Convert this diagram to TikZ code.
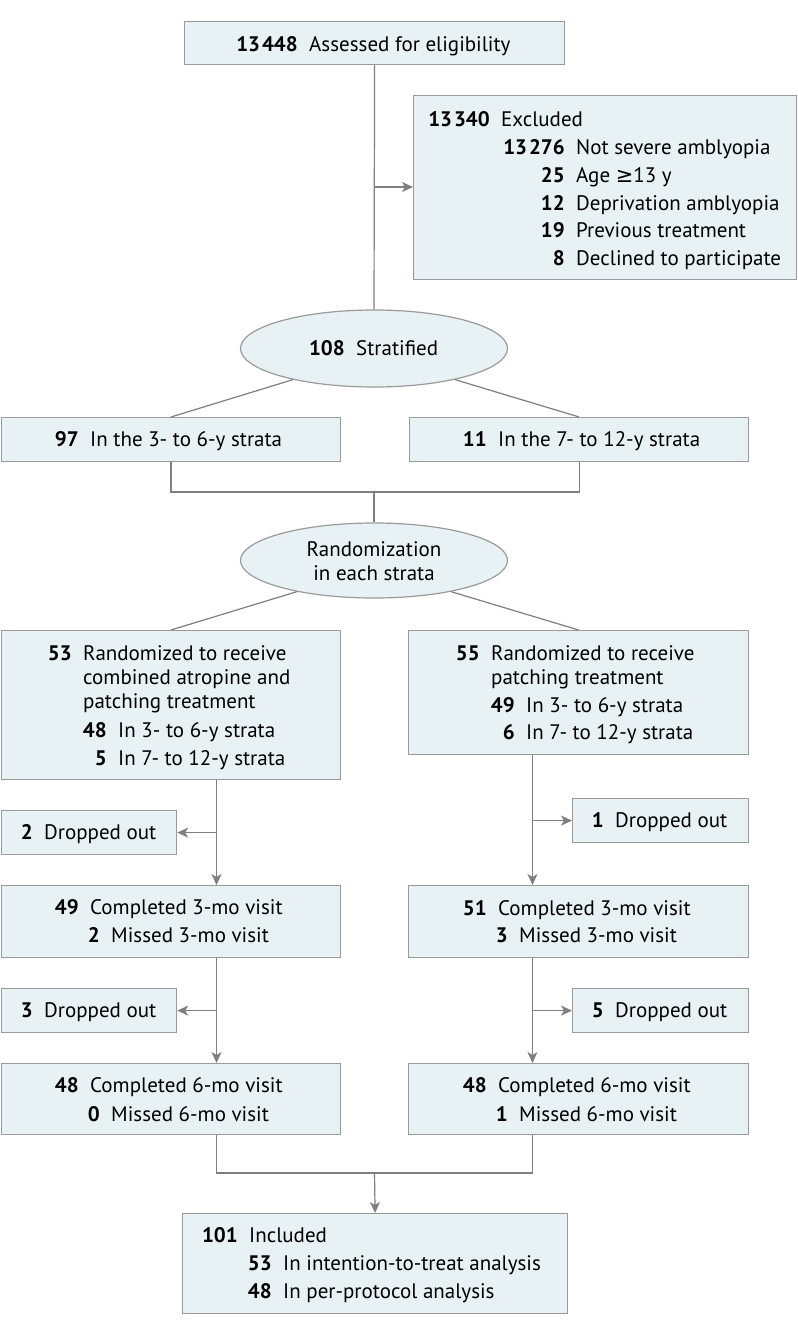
\documentclass[tikz,border=0pt]{standalone}
\usepackage{fontspec}
\setmainfont{PT Sans}
\newfontfamily\symfont{DejaVu Sans}
\usetikzlibrary{shapes.geometric,arrows.meta,calc}
\definecolor{boxfill}{HTML}{E8F2F5}
\definecolor{boxline}{HTML}{9A9A9A}
\definecolor{conn}{HTML}{7F7F7F}
\newcommand\ent[5]{%
  \node[num] (#1n) at (#2,#3) {#4};%
  \node[lab] (#1t) at ([xshift=11pt]#1n.base east) {#5};}
\newcommand\thsp{\hspace{2pt}}
\begin{document}
\begin{tikzpicture}[x=1pt,y=-1pt,
  every node/.style={font=\fontsize{21}{25}\selectfont},
  box/.style={draw=boxline, fill=boxfill, line width=1.2pt, inner sep=0, anchor=north west},
  oval/.style={ellipse, draw=boxline, fill=boxfill, line width=1.2pt, inner sep=0},
  num/.style={font=\fontsize{21}{25}\selectfont\bfseries, anchor=base east, inner sep=0},
  lab/.style={anchor=base west, inner sep=0},
  ctr/.style={anchor=base, inner sep=0},
  conline/.style={draw=conn, line width=1.2pt},
  arr/.style={conline, -{Stealth[length=11pt,width=10pt,inset=3pt]}, fill=conn}]
\useasboundingbox (0,0) rectangle (798,1334);
% boxes
\node[box, minimum width=380, minimum height=43] (b1) at (184,21) {};
\node[box, minimum width=383, minimum height=184] (excl) at (413,95) {};
\node[oval, minimum width=267, minimum height=77] (strat) at (374,348.5) {};
\node[box, minimum width=339.3, minimum height=44] (s3) at (0.7,417) {};
\node[box, minimum width=339, minimum height=44] (s7) at (409,417) {};
\node[oval, minimum width=267, minimum height=75] (rand) at (374,560.5) {};
\node[box, minimum width=339.3, minimum height=149] (armL) at (0.7,630) {};
\node[box, minimum width=340, minimum height=124] (armR) at (408,630) {};
\node[box, minimum width=175.3, minimum height=44] (d1L) at (0.7,810) {};
\node[box, minimum width=176, minimum height=44] (d1R) at (572,798) {};
\node[box, minimum width=339.3, minimum height=72] (m3L) at (0.7,885) {};
\node[box, minimum width=340, minimum height=72] (m3R) at (408,885) {};
\node[box, minimum width=175.3, minimum height=44] (d2L) at (0.7,988) {};
\node[box, minimum width=176, minimum height=44] (d2R) at (572,988) {};
\node[box, minimum width=339.3, minimum height=71] (m6L) at (0.7,1063) {};
\node[box, minimum width=340, minimum height=71] (m6R) at (408,1063) {};
\node[box, minimum width=385, minimum height=100] (incl) at (182,1213) {};
% texts
\ent{a}{298}{51}{13\thsp448}{Assessed for eligibility}
\ent{e0}{490}{126}{13\thsp340}{Excluded}
\ent{e1}{565}{154}{13\thsp276}{Not severe amblyopia}
\ent{e2}{565}{182}{25}{Age {\symfont ≥}13 y}
\ent{e3}{565}{210}{12}{Deprivation amblyopia}
\ent{e4}{565}{237}{19}{Previous treatment}
\ent{e5}{565}{265}{8}{Declined to participate}
\ent{st}{345}{355}{108}{Stratified}
\ent{sa}{79}{446}{97}{In the 3- to 6-y strata}
\ent{sb}{487}{446}{11}{In the 7- to 12-y strata}
\node[ctr] (rn1) at (374,556) {Randomization};
\node[ctr] (rn2) at (374,580) {in each strata};
\ent{l0}{72}{660}{53}{Randomized to receive}
\node[lab] (l0b) at ([yshift=-24pt]l0t.base west) {combined atropine and};
\node[lab] (l0c) at ([yshift=-48pt]l0t.base west) {patching treatment};
\ent{l1}{107}{737}{48}{In 3- to 6-y strata}
\ent{l2}{107}{765}{5}{In 7- to 12-y strata}
\ent{r0}{480}{660}{55}{Randomized to receive}
\node[lab] (r0b) at ([yshift=-24pt]r0t.base west) {patching treatment};
\ent{r1}{515}{712}{49}{In 3- to 6-y strata}
\ent{r2}{515}{739}{6}{In 7- to 12-y strata}
\ent{dl1}{33}{839}{2}{Dropped out}
\ent{dr1}{604}{827}{1}{Dropped out}
\ent{ml1}{79}{914}{49}{Completed 3-mo visit}
\ent{ml2}{100}{942}{2}{Missed 3-mo visit}
\ent{mr1}{487}{915}{51}{Completed 3-mo visit}
\ent{mr2}{508}{942}{3}{Missed 3-mo visit}
\ent{dl2}{33}{1017}{3}{Dropped out}
\ent{dr2}{604}{1017}{5}{Dropped out}
\ent{nl1}{79}{1092}{48}{Completed 6-mo visit}
\ent{nl2}{100}{1121}{0}{Missed 6-mo visit}
\ent{nr1}{487}{1092}{48}{Completed 6-mo visit}
\ent{nr2}{508}{1121}{1}{Missed 6-mo visit}
\ent{i0}{238}{1242}{101}{Included}
\ent{i1}{272}{1270}{53}{In intention-to-treat analysis}
\ent{i2}{272}{1298}{48}{In per-protocol analysis}
% connectors
\coordinate (xL) at (216.5,0);
\coordinate (xR) at (532.5,0);
\coordinate (j1) at (374,187);
\coordinate (m1) at (374,492);
\coordinate (m2) at (374.5,1173);
\draw[conline] (b1.south) -- (strat.north);
\draw[arr] (j1) -- (j1 -| excl.west);
\draw[conline] (strat.-159) -- (s3.north);
\draw[conline] (strat.-21) -- (s7.north);
\draw[conline] (s3.south) |- (m1) -| (s7.south);
\draw[conline] (m1) -- (rand.north);
\draw[conline] (rand.-158) -- (armL.north);
\draw[conline] (rand.-22) -- (armR.north);
\draw[arr] (armL.south -| xL) -- (m3L.north -| xL);
\draw[arr] (d1L.east -| xL) -- (d1L.east);
\draw[arr] (m3L.south -| xL) -- (m6L.north -| xL);
\draw[arr] (d2L.east -| xL) -- (d2L.east);
\draw[arr] (armR.south -| xR) -- (m3R.north -| xR);
\draw[arr] (d1R.west -| xR) -- (d1R.west);
\draw[arr] (m3R.south -| xR) -- (m6R.north -| xR);
\draw[arr] (d2R.west -| xR) -- (d2R.west);
\draw[conline] (m6L.south -| xL) |- (m2) -| (m6R.south -| xR);
\draw[arr] (m2) -- (incl.north);
\end{tikzpicture}
\end{document}
